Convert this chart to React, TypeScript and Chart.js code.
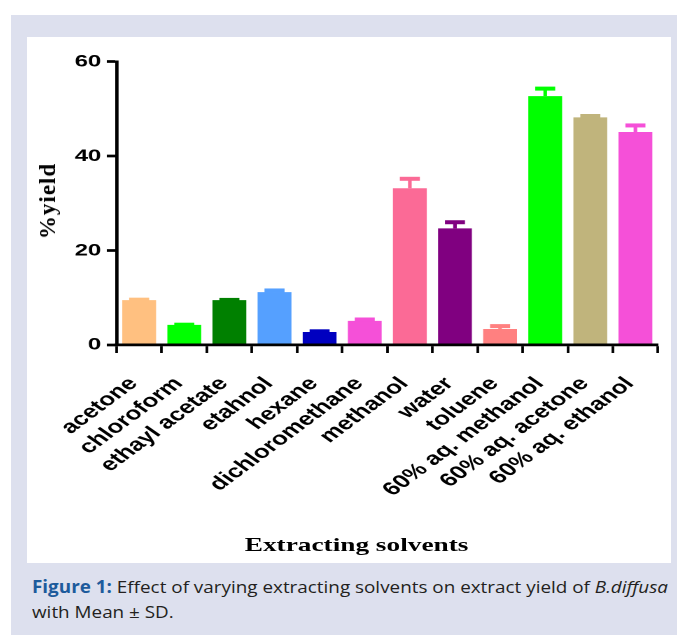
import React, { useEffect, useLayoutEffect, useRef, useState } from "react";
import { Chart, registerables } from "chart.js";

Chart.register(...registerables);

// ---- data ----
const categories = [
  "acetone",
  "chloroform",
  "ethayl acetate",
  "etahnol",
  "hexane",
  "dichloromethane",
  "methanol",
  "water",
  "toluene",
  "60% aq. methanol",
  "60% aq. acetone",
  "60% aq. ethanol",
];
const meanYield = [9.5, 4.25, 9.5, 11.2, 2.75, 5.1, 33.2, 24.7, 3.4, 52.7, 48.2, 45.1];
const sdYield = [0.1, 0.05, 0.05, 0.35, 0.15, 0.3, 2.0, 1.3, 0.6, 1.6, 0.3, 1.4];
const barColors = [
  "#FFC080",
  "#00FF00",
  "#008000",
  "#55A0FF",
  "#0000C0",
  "#F550D8",
  "#FB6A96",
  "#800080",
  "#FF8080",
  "#00FF00",
  "#C0B47C",
  "#F550D8",
];
const yTicks = [0, 20, 40, 60];

// ---- layout constants ----
const STRETCH = 1.4;
const INNER_W = 460;
const INNER_H = 526;
const STEM_W = 2.6;
const CAP_W = 14.3;
const CAP_H = 4;

const errorBarPlugin = {
  id: "errorBars",
  afterDatasetsDraw(chart: any) {
    const ctx = chart.ctx;
    const meta = chart.getDatasetMeta(0);
    const yScale = chart.scales.y;
    ctx.save();
    meta.data.forEach((bar: any, i: number) => {
      const top = yScale.getPixelForValue(meanYield[i] + sdYield[i]);
      const base = bar.y;
      const x = bar.x;
      ctx.fillStyle = barColors[i];
      if (base > top) ctx.fillRect(x - STEM_W / 2, top, STEM_W, base - top);
      ctx.fillRect(x - CAP_W / 2, top - CAP_H / 2, CAP_W, CAP_H);
    });
    ctx.restore();
  },
};

function BarChart() {
  const canvasRef = useRef<HTMLCanvasElement | null>(null);
  useEffect(() => {
    if (!canvasRef.current) return;
    const chart = new Chart(canvasRef.current, {
      type: "bar",
      data: {
        labels: categories,
        datasets: [
          {
            data: meanYield,
            backgroundColor: barColors,
            borderWidth: 0,
            categoryPercentage: 1,
            barPercentage: 0.75,
          },
        ],
      },
      options: {
        responsive: false,
        animation: false,
        devicePixelRatio: 2,
        layout: { padding: { top: 24.7, right: 9.3, left: 0, bottom: 0 } },
        plugins: {
          legend: { display: false },
          tooltip: { enabled: false },
          title: { display: false },
        },
        scales: {
          x: {
            type: "category",
            offset: true,
            grid: {
              display: true,
              drawOnChartArea: false,
              drawTicks: true,
              tickLength: 8,
              tickWidth: 1.9,
              tickColor: "#000",
            },
            border: { display: true, color: "#000", width: 2.7, z: 1 },
            ticks: {
              color: "#000",
              font: { family: '"Liberation Sans", Arial, sans-serif', size: 18.5, weight: "bold" },
              minRotation: 46,
              maxRotation: 46,
              padding: 20,
              labelOffset: -4,
              autoSkip: false,
            },
            afterFit(scale: any) {
              scale.height = INNER_H - 308;
              scale.paddingLeft = 0;
              scale.paddingRight = 0;
            },
          },
          y: {
            min: 0,
            max: 60,
            afterBuildTicks(scale: any) {
              scale.ticks = yTicks.map((v) => ({ value: v }));
            },
            grid: {
              drawOnChartArea: false,
              drawTicks: true,
              tickLength: 7,
              tickWidth: 2.7,
              tickColor: "#000",
            },
            border: { display: true, color: "#000", width: 2.4 },
            ticks: {
              color: "#000",
              font: { family: '"Liberation Sans", Arial, sans-serif', size: 17, weight: "bold" },
              padding: 4,
            },
            afterFit(scale: any) {
              scale.width = 64;
            },
          },
        },
      },
      plugins: [errorBarPlugin],
    } as any);
    return () => chart.destroy();
  }, []);

  return (
    <canvas
      ref={canvasRef}
      width={INNER_W}
      height={INNER_H}
      style={{ width: INNER_W + "px", height: INNER_H + "px", display: "block" }}
    />
  );
}

function Caption() {
  const lineRef = useRef<HTMLSpanElement | null>(null);
  const [scale, setScale] = useState(1);
  useLayoutEffect(() => {
    if (lineRef.current) {
      const w = lineRef.current.getBoundingClientRect().width;
      if (w > 0) setScale(636 / w);
    }
  }, []);
  return (
    <div
      style={{
        position: "absolute",
        left: 32,
        top: 574,
        fontFamily: '"Open Sans", "Noto Sans", sans-serif',
        fontSize: 17,
        lineHeight: "25px",
        color: "#231f20",
        whiteSpace: "nowrap",
        transform: `scaleX(${scale})`,
        transformOrigin: "0 0",
      }}
    >
      <span ref={lineRef}>
        <span style={{ fontWeight: "bold", color: "#1d5b9c" }}>Figure 1:</span> Effect of varying
        extracting solvents on extract yield of <i>B.diffusa</i>
      </span>
      <br />
      <span>with Mean ± SD.</span>
    </div>
  );
}

export default function App() {
  return (
    <div
      style={{
        position: "absolute",
        left: 0,
        top: 0,
        width: 677,
        height: 635,
        overflow: "hidden",
        background: "#ffffff",
      }}
    >
      <div
        style={{
          position: "absolute",
          left: 11,
          top: 15,
          width: 666,
          height: 620,
          background: "#dde0ee",
        }}
      />
      <div
        style={{
          position: "absolute",
          left: 27,
          top: 37,
          width: 644,
          height: 526,
          background: "#ffffff",
        }}
      />
      <div
        style={{
          position: "absolute",
          left: 27,
          top: 37,
          width: INNER_W,
          height: INNER_H,
          transform: `scaleX(${STRETCH})`,
          transformOrigin: "0 0",
        }}
      >
        <BarChart />
        <div
          style={{
            position: "absolute",
            left: 235.4,
            top: 508,
            transform: "translate(-50%, -50%)",
            fontFamily: '"Liberation Serif", "Times New Roman", serif',
            fontWeight: "bold",
            fontSize: 19.5,
            color: "#000",
            whiteSpace: "nowrap",
          }}
        >
          Extracting solvents
        </div>
      </div>
      <div
        style={{
          position: "absolute",
          left: 48,
          top: 201,
          transform: "translate(-50%, -50%) rotate(-90deg)",
          fontFamily: '"Liberation Serif", "Times New Roman", serif',
          fontWeight: "bold",
          fontSize: 23,
          letterSpacing: "1px",
          color: "#000",
          whiteSpace: "nowrap",
        }}
      >
        %yield
      </div>
      <Caption />
    </div>
  );
}
